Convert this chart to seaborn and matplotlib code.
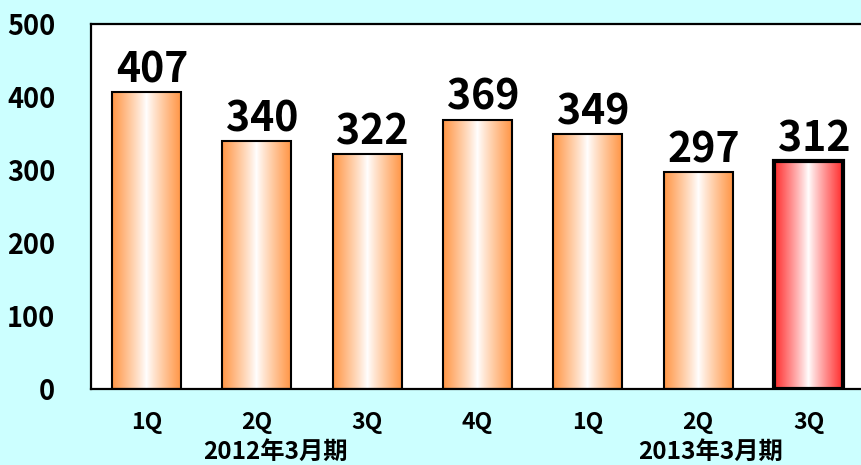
import numpy as np
import pandas as pd
import matplotlib
matplotlib.use("Agg")
import matplotlib.pyplot as plt
import matplotlib.transforms as mtransforms
import seaborn as sns

# data
periods = ["2012-1Q", "2012-2Q", "2012-3Q", "2012-4Q", "2013-1Q", "2013-2Q", "2013-3Q"]
quarter_labels = ["1Q", "2Q", "3Q", "4Q", "1Q", "2Q", "3Q"]
values = [407, 340, 322, 369, 349, 297, 312]
group_labels = ["2012年3月期", "2013年3月期"]
group_pos = [1.17, 5.11]

df = pd.DataFrame({"period": periods, "value": values})

sns.set_style("white")
plt.rcParams["font.family"] = ["Noto Sans CJK JP", "DejaVu Sans"]
plt.rcParams["font.weight"] = "bold"

bg = "#CCFFFF"
orange = np.array([255, 150, 70]) / 255
red = np.array([255, 45, 45]) / 255

fig = plt.figure(figsize=(8.61, 4.65), dpi=100, facecolor=bg)
ax = fig.add_axes([0.1061, 0.1634, 0.897, 0.785])
ax.set_facecolor("white")

sns.barplot(data=df, x="period", y="value", order=periods, width=0.625,
            color="white", edgecolor="black", linewidth=1.5, ax=ax)

# gradient fill for each bar
t = np.linspace(0, 1, 200)
prof = np.clip(np.abs(t - 0.5) / 0.5, 0, 1) ** 0.9
for i, p in enumerate(ax.patches):
    x0, y0 = p.get_x(), p.get_y()
    w, h = p.get_width(), p.get_height()
    c = red if i == len(values) - 1 else orange
    img = 1 - prof[:, None] * (1 - c[None, :])
    ax.imshow(img[None, :, :], extent=[x0, x0 + w, y0, y0 + h],
              aspect="auto", zorder=1, interpolation="bilinear")
    p.set_facecolor("none")
    p.set_zorder(3)
    if i == len(values) - 1:
        p.set_linewidth(3)
    ax.annotate(str(values[i]), (x0 + w / 2, y0 + h), xytext=(4, 7),
                textcoords="offset points", ha="center", va="baseline",
                fontsize=29.5, fontweight="bold", color="black", zorder=5)

ax.set_xlim(-0.5, 6.5)
ax.set_ylim(0, 500)
ax.set_yticks([0, 100, 200, 300, 400, 500])
ax.set_xticks(range(len(periods)))
ax.set_xticklabels(quarter_labels)
ax.set_xlabel("")
ax.set_ylabel("")

ax.tick_params(axis="y", direction="in", length=6, width=1, color="#888888",
               pad=26, labelsize=19.5, labelcolor="black")
ax.tick_params(axis="x", length=0, pad=16, labelsize=16.5, labelcolor="black")
for lab in ax.get_xticklabels() + ax.get_yticklabels():
    lab.set_fontweight("bold")

for s in ax.spines.values():
    s.set_visible(True)
    s.set_color("black")
    s.set_linewidth(1.6)

trans = mtransforms.blended_transform_factory(ax.transData, ax.transAxes)
for gx, gl in zip(group_pos, group_labels):
    ax.text(gx, -0.173, gl, transform=trans, ha="center", va="center",
            fontsize=17.5, fontweight="bold", color="black")

fig.savefig("out.png", dpi=100, facecolor=bg)
